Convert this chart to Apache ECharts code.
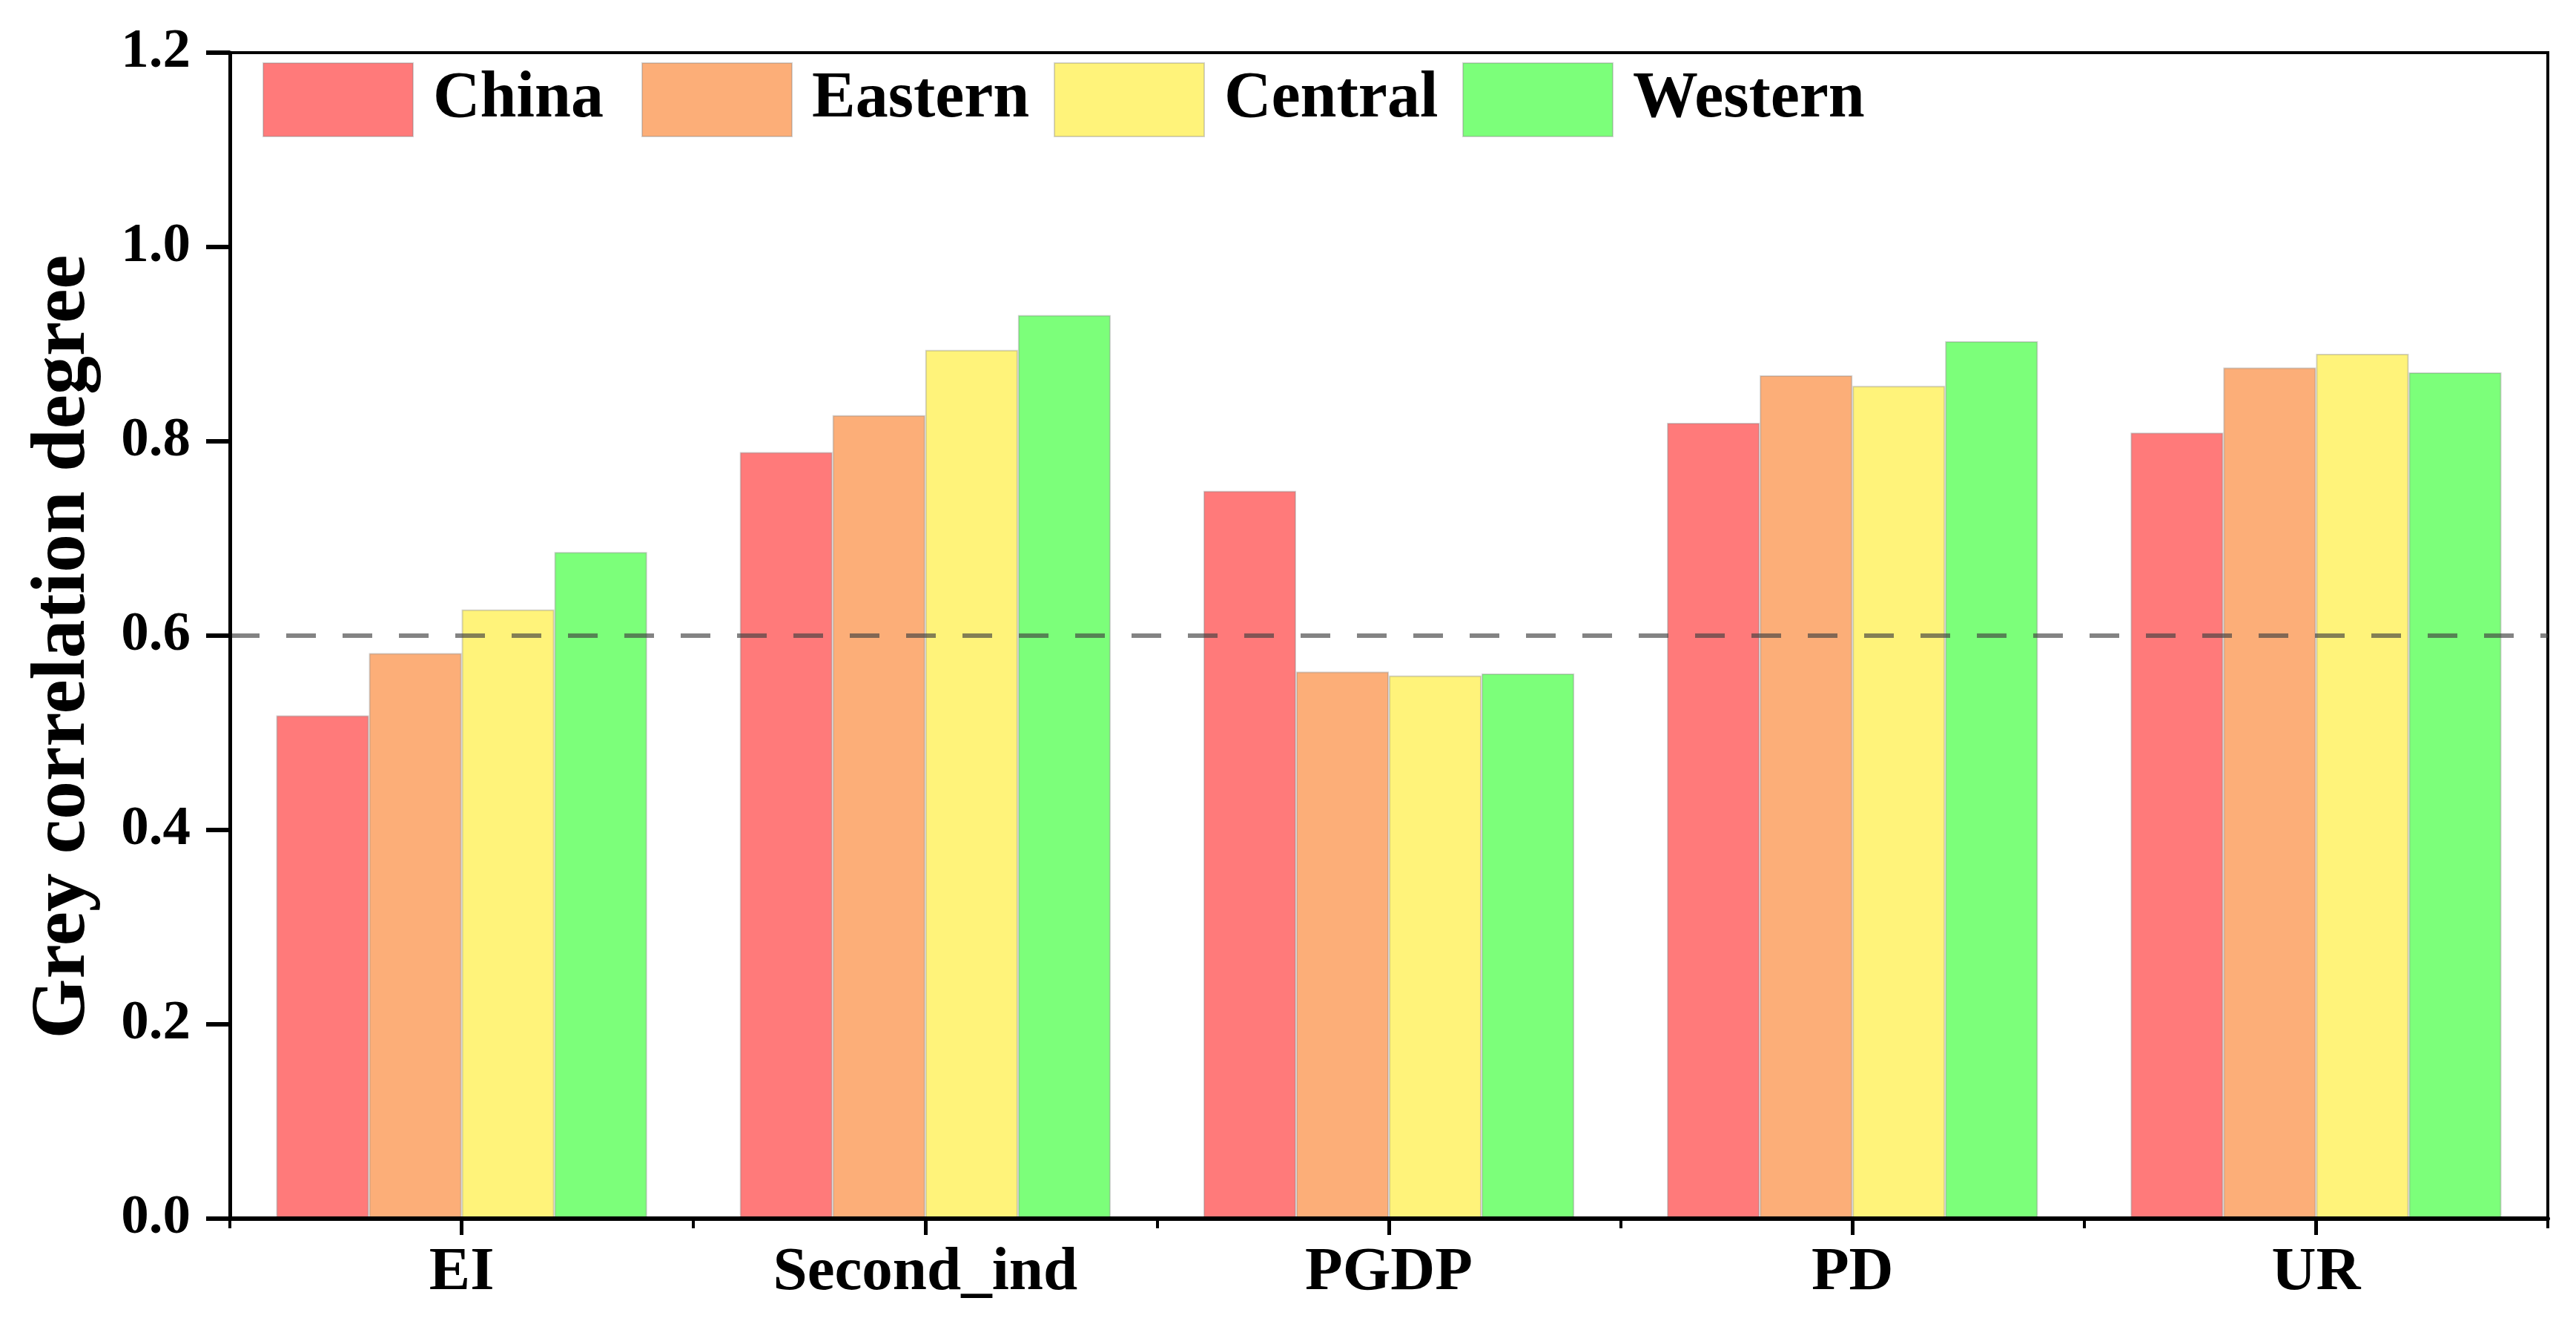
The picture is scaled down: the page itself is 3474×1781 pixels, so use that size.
<!DOCTYPE html>
<html>
<head>
<meta charset="utf-8">
<script src="https://cdn.jsdelivr.net/npm/echarts@6/dist/echarts.min.js"></script>
<style>
  html, body { margin: 0; padding: 0; background: #fff; }
  #main { width: 3474px; height: 1781px; }
</style>
</head>
<body>
<div id="main"></div>
<script>
// data
var categories = ['EI', 'Second_ind', 'PGDP', 'PD', 'UR'];
var regions = ['China', 'Eastern', 'Central', 'Western'];
var china   = [0.518, 0.789, 0.749, 0.819, 0.809];
var eastern = [0.582, 0.827, 0.563, 0.868, 0.876];
var central = [0.627, 0.894, 0.559, 0.857, 0.890];
var western = [0.686, 0.930, 0.561, 0.903, 0.871];
var threshold = 0.6;

var colors = ['#FF7A7A', '#FCAE78', '#FFF37A', '#7CFF7A'];
var values = [china, eastern, central, western];
var font = '"Liberation Serif", "Times New Roman", serif';

var myChart = echarts.init(document.getElementById('main'));

// one legend per item so each sits where the original puts it
var legendLeft = [354, 865, 1421, 1972];
var legends = regions.map(function (name, i) {
    return {
        data: [name],
        left: legendLeft[i],
        top: 84,
        padding: 0,
        itemWidth: 202,
        itemHeight: 99,
        icon: 'rect',
        selectedMode: false,
        textStyle: {
            fontFamily: font,
            fontWeight: 'bold',
            fontSize: 88,
            color: '#000',
            padding: [0, 0, 0, 22]
        }
    };
});

var series = regions.map(function (name, i) {
    var s = {
        name: name,
        type: 'bar',
        xAxisIndex: 0,
        data: values[i],
        barGap: '0%',
        barCategoryGap: '20%',
        itemStyle: {
            color: colors[i],
            borderColor: 'rgba(128,128,128,0.35)',
            borderWidth: 2
        }
    };
    if (i == regions.length - 1) {
        s.markLine = {
            silent: true,
            symbol: ['none', 'none'],
            label: { show: false },
            lineStyle: {
                color: 'rgba(64,64,64,0.65)',
                width: 6,
                type: [40, 36]
            },
            data: [{ yAxis: threshold }]
        };
    }
    return s;
});

var option = {
    animation: false,
    backgroundColor: '#fff',
    textStyle: { fontFamily: font },
    legend: legends,
    grid: {
        left: 310,
        right: 38,
        top: 71,
        bottom: 138,
        show: true,
        borderColor: '#000',
        borderWidth: 4,
        outerBoundsMode: 'none'
    },
    xAxis: [
        {
            type: 'category',
            data: categories,
            z: 10,
            axisLine: { show: true, lineStyle: { color: '#000', width: 6 } },
            axisTick: { show: true, alignWithLabel: true, length: 22, lineStyle: { color: '#000', width: 5 } },
            axisLabel: {
                margin: 32,
                fontFamily: font,
                fontWeight: 'bold',
                fontSize: 83,
                color: '#000'
            },
            splitLine: { show: false }
        },
        {
            // short ticks between the groups
            type: 'category',
            data: categories,
            position: 'bottom',
            z: 10,
            axisLine: { show: false },
            axisTick: { show: true, length: 13, lineStyle: { color: '#000', width: 4 } },
            axisLabel: { show: false },
            splitLine: { show: false }
        }
    ],
    yAxis: {
        type: 'value',
        min: 0,
        max: 1.2,
        interval: 0.2,
        z: 10,
        name: 'Grey correlation degree',
        nameLocation: 'middle',
        nameGap: 172,
        nameTextStyle: {
            fontFamily: font,
            fontWeight: 'bold',
            fontSize: 104,
            color: '#000',
            padding: [0, 30, 0, 0]
        },
        axisLine: { show: true, lineStyle: { color: '#000', width: 5 } },
        axisTick: { show: true, length: 32, lineStyle: { color: '#000', width: 6 } },
        axisLabel: {
            margin: 53,
            fontFamily: font,
            fontWeight: 'bold',
            fontSize: 75,
            color: '#000',
            formatter: function (v) { return v.toFixed(1); }
        },
        splitLine: { show: false }
    },
    series: series
};

myChart.setOption(option);
</script>
</body>
</html>
